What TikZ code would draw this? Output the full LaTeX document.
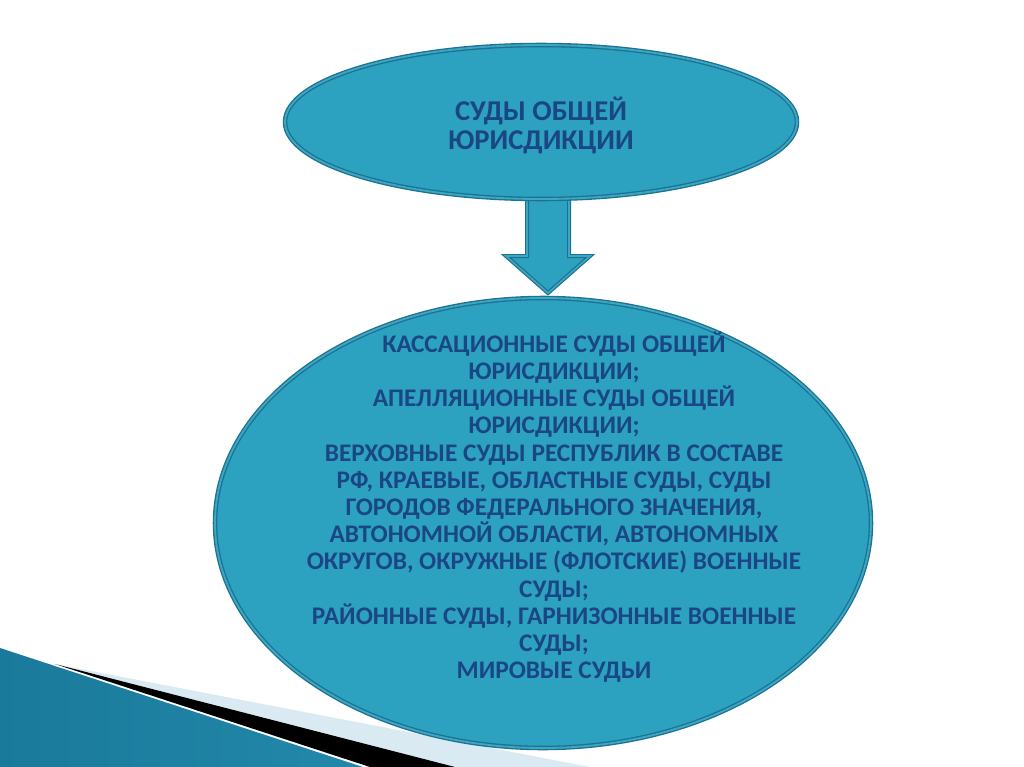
\documentclass[tikz,border=0pt]{standalone}
\usepackage{fontspec}
\setmainfont{Carlito}
\usetikzlibrary{shapes.geometric}
\definecolor{efill}{RGB}{45,162,192}
\definecolor{edark}{RGB}{26,115,145}
\definecolor{elight}{RGB}{62,165,195}
\definecolor{txt}{RGB}{26,70,132}
\definecolor{bandA}{RGB}{26,122,155}
\definecolor{bandB}{RGB}{96,186,218}
\definecolor{bandC}{RGB}{34,136,170}
\definecolor{stripe}{RGB}{218,234,242}
\begin{document}
\begin{tikzpicture}[x=0.75pt,y=-0.75pt,
  bubble/.style={ellipse, inner sep=0pt, fill=efill, draw=edark, double=elight, double distance=1.4pt, line width=1pt},
  blockarrow/.style={fill=efill, draw=edark, double=elight, double distance=1.2pt, line width=0.9pt, line join=miter},
  ttext/.style={align=center, text=txt, inner sep=0pt}]
\useasboundingbox (0,0) rectangle (1024,767);
\fill[white] (0,0) rectangle (1024,767);
% bottom-left decoration
\shade[left color=bandA, middle color=bandB, right color=bandC] (0,648) -- (363,767) -- (0,767) -- cycle;
\fill[stripe] (60,665) -- (590,767) -- (455,767) -- cycle;
\fill[black] (55,664) -- (455,767) -- (370,767) -- cycle;
% block arrow
\coordinate (as) at (548,188);
\coordinate (at) at (548,293);
\draw[blockarrow] ([xshift=-15.75pt]as) -- ([xshift=-15.75pt,yshift=-51pt]as) -- ([xshift=-31.5pt,yshift=-51pt]as) -- (at) -- ([xshift=31.5pt,yshift=-51pt]as) -- ([xshift=15.75pt,yshift=-51pt]as) -- ([xshift=15.75pt]as) -- cycle;
% ellipses
\node[bubble, minimum width=384pt, minimum height=115.5pt] (top) at (541,122) {};
\node[bubble, minimum width=492pt, minimum height=337.5pt] (low) at (543,523) {};
% texts
\node[ttext, font=\bfseries\fontsize{21.5}{21.75}\selectfont] (t1) at (541,125) {СУДЫ ОБЩЕЙ\\ЮРИСДИКЦИИ};
\node[ttext, font=\bfseries\fontsize{19}{20.4}\selectfont] (t2) at (554,507) {КАССАЦИОННЫЕ СУДЫ ОБЩЕЙ\\ЮРИСДИКЦИИ;\\АПЕЛЛЯЦИОННЫЕ СУДЫ ОБЩЕЙ\\ЮРИСДИКЦИИ;\\ВЕРХОВНЫЕ СУДЫ РЕСПУБЛИК В СОСТАВЕ\\РФ, КРАЕВЫЕ, ОБЛАСТНЫЕ СУДЫ, СУДЫ\\ГОРОДОВ ФЕДЕРАЛЬНОГО ЗНАЧЕНИЯ,\\АВТОНОМНОЙ ОБЛАСТИ, АВТОНОМНЫХ\\ОКРУГОВ, ОКРУЖНЫЕ (ФЛОТСКИЕ) ВОЕННЫЕ\\СУДЫ;\\РАЙОННЫЕ СУДЫ, ГАРНИЗОННЫЕ ВОЕННЫЕ\\СУДЫ;\\МИРОВЫЕ СУДЬИ};
\end{tikzpicture}
\end{document}
